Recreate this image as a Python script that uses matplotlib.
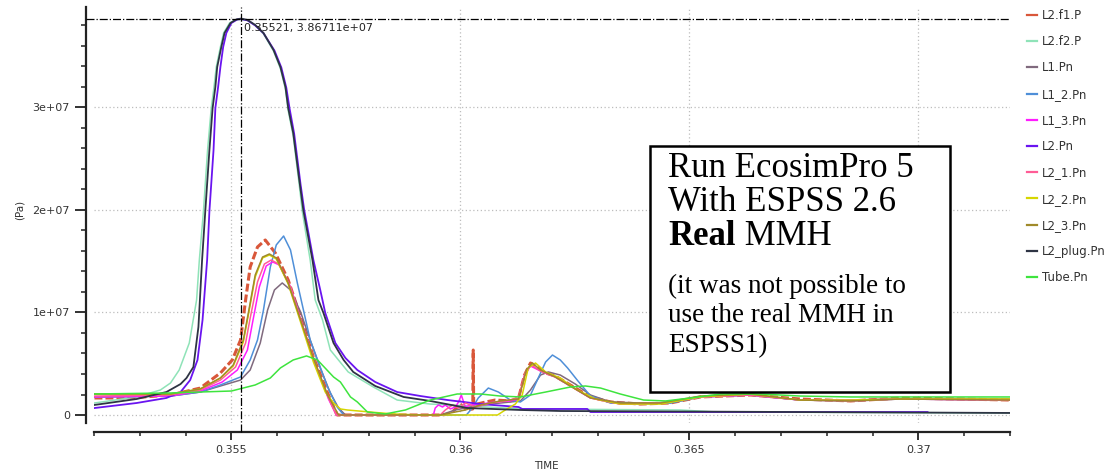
import matplotlib
matplotlib.use("Agg")
import matplotlib.pyplot as plt
from matplotlib.lines import Line2D
from matplotlib.patches import Rectangle
from matplotlib.ticker import MultipleLocator, FuncFormatter, FixedLocator

# ---- data: time [s] and pressure [1e6 Pa] for each node ----
t_f1 = [0.35201, 0.35279, 0.35367, 0.35432, 0.35476, 0.35502, 0.35520, 0.35531, 0.35541, 0.35557,
        0.35574, 0.35596, 0.35624, 0.35651, 0.35679, 0.35710, 0.35731, 0.35956, 0.35978, 0.36000,
        0.36013, 0.36027, 0.36028, 0.36029, 0.36055, 0.36076, 0.36109, 0.36127, 0.36140, 0.36153,
        0.36166, 0.36186, 0.36207, 0.36240, 0.36284, 0.36328, 0.36393, 0.36458, 0.36524, 0.36633,
        0.36742, 0.36852, 0.36961, 0.37092, 0.37201]
p_f1 = [1.66, 1.66, 1.95, 2.63, 4.10, 5.37, 7.32, 11.22, 14.44, 16.39,
        17.07, 15.80, 13.17, 9.56, 5.66, 2.15, 0.00, 0.00, 0.10, 1.07,
        0.49, 0.59, 6.34, 0.98, 1.27, 1.46, 1.37, 1.66, 3.90, 5.07,
        4.78, 4.10, 3.80, 2.93, 1.76, 1.27, 1.07, 1.17, 1.76, 1.95,
        1.56, 1.37, 1.66, 1.56, 1.46]

t_f2 = [0.35201, 0.35293, 0.35345, 0.35367, 0.35386, 0.35408, 0.35424, 0.35430, 0.35439, 0.35448,
        0.35456, 0.35462, 0.35467, 0.35476, 0.35483, 0.35496, 0.35509, 0.35520, 0.35535, 0.35552,
        0.35570, 0.35592, 0.35607, 0.35618, 0.35624, 0.35635, 0.35648, 0.35655, 0.35672, 0.35683,
        0.35699, 0.35716, 0.35755, 0.35810, 0.35862, 0.35934, 0.36022, 0.36131, 0.36480, 0.36561,
        0.37201]
p_f2 = [1.17, 1.76, 2.44, 3.12, 4.39, 7.02, 11.22, 15.12, 19.90, 25.85,
        29.95, 32.00, 33.95, 35.90, 37.27, 38.24, 38.55, 38.60, 38.50, 38.00,
        37.20, 35.50, 33.80, 31.80, 29.70, 27.20, 22.50, 19.80, 15.12, 11.22,
        9.27, 6.34, 4.20, 2.73, 1.46, 1.07, 0.88, 0.59, 0.49, 0.29,
        0.20]

t_l1 = [0.35201, 0.35367, 0.35432, 0.35476, 0.35520, 0.35541, 0.35563, 0.35579, 0.35594, 0.35611,
        0.35629, 0.35651, 0.35672, 0.35694, 0.35716, 0.35734, 0.35749, 0.35956, 0.35989, 0.36022,
        0.36066, 0.36109, 0.36131, 0.36153, 0.36175, 0.36192, 0.36218, 0.36251, 0.36284, 0.36328,
        0.36393, 0.36458, 0.36524, 0.36633, 0.36742, 0.36852, 0.36961, 0.37201]
p_l1 = [1.76, 1.85, 2.24, 2.83, 3.41, 4.39, 7.02, 10.24, 12.20, 12.88,
        12.20, 10.05, 7.32, 4.59, 2.15, 0.68, 0.00, 0.00, 0.49, 0.78,
        1.07, 1.27, 1.37, 2.44, 3.90, 4.20, 3.90, 3.02, 1.95, 1.27,
        1.17, 1.17, 1.76, 1.95, 1.46, 1.46, 1.56, 1.56]

t_l1_2 = [0.35201, 0.35367, 0.35432, 0.35476, 0.35520, 0.35541, 0.35557, 0.35570, 0.35585, 0.35598,
          0.35614, 0.35629, 0.35644, 0.35672, 0.35710, 0.35731, 0.35745, 0.36013, 0.36026, 0.36039,
          0.36061, 0.36083, 0.36109, 0.36131, 0.36153, 0.36170, 0.36186, 0.36201, 0.36218, 0.36234,
          0.36255, 0.36284, 0.36328, 0.36393, 0.36458, 0.36524, 0.36633, 0.36742, 0.36852, 0.36961,
          0.37201]
p_l1_2 = [1.76, 1.85, 2.24, 2.93, 3.71, 5.37, 7.32, 10.24, 14.44, 16.59,
          17.46, 16.10, 12.88, 7.32, 2.73, 0.78, 0.00, 0.00, 0.68, 1.66,
          2.63, 2.24, 1.46, 1.27, 1.95, 3.61, 5.17, 5.85, 5.37, 4.59,
          3.41, 1.85, 1.17, 1.07, 1.17, 1.76, 1.95, 1.46, 1.37, 1.56,
          1.46]

t_l1_3 = [0.35201, 0.35367, 0.35432, 0.35480, 0.35513, 0.35535, 0.35546, 0.35561, 0.35576, 0.35590,
          0.35605, 0.35629, 0.35655, 0.35683, 0.35712, 0.35729, 0.35941, 0.35945, 0.35952, 0.35961,
          0.35967, 0.35978, 0.35989, 0.35996, 0.36002, 0.36007, 0.36011, 0.36022, 0.36044, 0.36076,
          0.36109, 0.36127, 0.36140, 0.36153, 0.36175, 0.36207, 0.36240, 0.36284, 0.36349, 0.36437,
          0.36524, 0.36633, 0.36742, 0.36852, 0.36961, 0.37201]
p_l1_3 = [1.76, 1.85, 2.34, 3.22, 4.39, 6.34, 8.98, 12.49, 14.54, 14.93,
          14.63, 12.49, 8.78, 4.98, 1.56, 0.00, 0.00, 0.68, 0.98, 0.78,
          0.98, 0.59, 0.78, 1.27, 1.95, 1.27, 0.78, 0.98, 1.07, 1.27,
          1.37, 1.56, 3.90, 4.78, 4.29, 3.71, 2.83, 1.66, 1.07, 1.17,
          1.76, 1.95, 1.46, 1.46, 1.56, 1.46]

t_l2 = [0.35201, 0.35293, 0.35358, 0.35389, 0.35410, 0.35426, 0.35437, 0.35447, 0.35452, 0.35461,
        0.35465, 0.35471, 0.35476, 0.35482, 0.35489, 0.35500, 0.35513, 0.35522, 0.35535, 0.35552,
        0.35570, 0.35594, 0.35609, 0.35620, 0.35627, 0.35637, 0.35651, 0.35659, 0.35679, 0.35694,
        0.35705, 0.35727, 0.35749, 0.35775, 0.35814, 0.35862, 0.35913, 0.35972, 0.36044, 0.36127,
        0.36135, 0.36277, 0.36284, 0.37020]
p_l2 = [0.68, 1.17, 1.66, 2.24, 3.41, 5.37, 9.27, 15.12, 19.90, 25.85,
        29.95, 32.00, 33.95, 35.90, 37.27, 38.24, 38.59, 38.62, 38.50, 38.00,
        37.25, 35.55, 33.90, 31.90, 29.90, 27.45, 22.50, 20.00, 15.12, 12.20,
        9.95, 7.02, 5.56, 4.39, 3.22, 2.24, 1.85, 1.46, 1.07, 0.78,
        0.59, 0.59, 0.29, 0.29]

t_l2_1 = [0.35201, 0.35367, 0.35432, 0.35476, 0.35509, 0.35531, 0.35541, 0.35557, 0.35572, 0.35587,
          0.35603, 0.35629, 0.35655, 0.35683, 0.35712, 0.35729, 0.35956, 0.35967, 0.35983, 0.35996,
          0.36011, 0.36033, 0.36066, 0.36098, 0.36127, 0.36142, 0.36155, 0.36175, 0.36207, 0.36240,
          0.36284, 0.36349, 0.36437, 0.36524, 0.36633, 0.36742, 0.36852, 0.36961, 0.37201]
p_l2_1 = [1.85, 1.95, 2.44, 3.41, 4.68, 7.02, 9.46, 12.98, 14.73, 15.12,
          14.73, 12.49, 8.78, 5.07, 1.66, 0.00, 0.00, 0.49, 0.98, 0.68,
          1.17, 0.78, 1.17, 1.37, 1.66, 4.20, 4.88, 4.29, 3.71, 2.83,
          1.66, 1.07, 1.17, 1.76, 1.95, 1.46, 1.37, 1.56, 1.46]

t_l2_2 = [0.35201, 0.35367, 0.35432, 0.35476, 0.35504, 0.35526, 0.35537, 0.35552, 0.35568, 0.35583,
          0.35598, 0.35624, 0.35651, 0.35679, 0.35705, 0.35723, 0.35738, 0.35753, 0.35803, 0.35854,
          0.35913, 0.36081, 0.36098, 0.36120, 0.36135, 0.36148, 0.36164, 0.36186, 0.36218, 0.36251,
          0.36295, 0.36349, 0.36437, 0.36524, 0.36633, 0.36742, 0.36852, 0.36961, 0.37201]
p_l2_2 = [2.05, 2.05, 2.54, 3.61, 4.78, 7.12, 9.76, 13.46, 15.32, 15.61,
          15.22, 12.78, 9.07, 5.17, 2.24, 1.17, 0.59, 0.49, 0.29, 0.10,
          0.00, 0.00, 0.49, 1.07, 1.95, 4.59, 5.07, 4.20, 3.61, 2.54,
          1.56, 1.07, 1.07, 1.76, 2.05, 1.46, 1.46, 1.56, 1.56]

t_l2_3 = [0.35201, 0.35367, 0.35432, 0.35476, 0.35504, 0.35526, 0.35537, 0.35552, 0.35568, 0.35583,
          0.35598, 0.35624, 0.35651, 0.35679, 0.35710, 0.35734, 0.35956, 0.36011, 0.36044, 0.36087,
          0.36127, 0.36144, 0.36157, 0.36175, 0.36207, 0.36240, 0.36284, 0.36349, 0.36437, 0.36524,
          0.36633, 0.36742, 0.36852, 0.36961, 0.37201]
p_l2_3 = [2.05, 2.05, 2.54, 3.61, 4.88, 7.32, 9.95, 13.66, 15.41, 15.71,
          15.32, 12.88, 9.27, 5.56, 1.95, 0.00, 0.00, 0.49, 0.98, 1.37,
          1.56, 4.39, 5.07, 4.39, 3.71, 2.83, 1.66, 1.17, 1.17, 1.85,
          2.05, 1.46, 1.37, 1.56, 1.46]

t_plug = [0.35201, 0.35293, 0.35358, 0.35389, 0.35402, 0.35417, 0.35428, 0.35436, 0.35443, 0.35452,
          0.35459, 0.35465, 0.35469, 0.35478, 0.35485, 0.35498, 0.35511, 0.35521, 0.35535, 0.35552,
          0.35570, 0.35592, 0.35607, 0.35618, 0.35624, 0.35635, 0.35648, 0.35657, 0.35677, 0.35690,
          0.35701, 0.35723, 0.35745, 0.35766, 0.35814, 0.35876, 0.35934, 0.36015, 0.36131, 0.36218,
          0.37201]
p_plug = [0.98, 1.56, 2.24, 3.02, 3.61, 4.68, 8.59, 15.12, 19.90, 25.85,
          29.95, 32.00, 33.95, 35.90, 37.27, 38.24, 38.59, 38.6711, 38.54, 38.05,
          37.27, 35.61, 33.95, 32.00, 29.95, 27.51, 23.00, 20.00, 15.12, 11.22,
          9.95, 7.02, 5.37, 4.20, 2.83, 1.76, 1.37, 0.68, 0.49, 0.39,
          0.20]

t_tube = [0.35201, 0.35367, 0.35500, 0.35552, 0.35585, 0.35607, 0.35635, 0.35664, 0.35688, 0.35723,
          0.35738, 0.35760, 0.35775, 0.35797, 0.35836, 0.35880, 0.35934, 0.35993, 0.36044, 0.36087,
          0.36131, 0.36186, 0.36240, 0.36273, 0.36306, 0.36349, 0.36400, 0.36448, 0.36502, 0.36568,
          0.36655, 0.36742, 0.36852, 0.36961, 0.37201]
p_tube = [2.05, 2.15, 2.34, 2.93, 3.61, 4.59, 5.37, 5.76, 5.37, 3.71,
          3.22, 1.76, 1.27, 0.29, 0.10, 0.49, 1.46, 2.05, 2.05, 1.85,
          1.76, 2.24, 2.73, 2.83, 2.63, 2.05, 1.46, 1.37, 1.66, 2.05,
          2.05, 1.85, 1.76, 1.76, 1.76]

labels = ["L2.f1.P", "L2.f2.P", "L1.Pn", "L1_2.Pn", "L1_3.Pn", "L2.Pn",
          "L2_1.Pn", "L2_2.Pn", "L2_3.Pn", "L2_plug.Pn", "Tube.Pn"]
colors = ["#d9573a", "#8fe3b8", "#806a7e", "#4f8fd8", "#ff1cff", "#6a14f0",
          "#ff5c96", "#d6d600", "#a08a2a", "#2e3444", "#3ee43e"]

cursor_t = 0.35521
cursor_p = 3.86711e7

series_t = [t_f1, t_f2, t_l1, t_l1_2, t_l1_3, t_l2, t_l2_1, t_l2_2, t_l2_3, t_plug, t_tube]
series_p = [p_f1, p_f2, p_l1, p_l1_2, p_l1_3, p_l2, p_l2_1, p_l2_2, p_l2_3, p_plug, p_tube]

W, H = 1114, 475
AX_W, AX_H = 916, 416
fig = plt.figure(figsize=(W / 100, H / 100), dpi=100)
fig.patch.set_facecolor("white")
ax = fig.add_axes([94 / W, 52 / H, AX_W / W, AX_H / H])

widths = [2.2, 1.1, 1.1, 1.1, 1.1, 1.3, 1.1, 1.1, 1.1, 1.3, 1.1]
for i, (tt, pp) in enumerate(zip(series_t, series_p)):
    style = dict(color=colors[i], lw=widths[i], zorder=3 + i * 0.1)
    if i == 0:
        style.update(ls=(0, (2.6, 1.0)))
    ax.plot(tt, [v * 1e6 for v in pp], **style)

ax.set_xlim(0.352, 0.372)
ax.set_ylim(-0.78e6, 3.98e7)

# detached axes
for side in ("top", "right"):
    ax.spines[side].set_visible(False)
ax.spines["left"].set_position(("outward", 5.8))
ax.spines["bottom"].set_position(("outward", 6.5))
for side in ("left", "bottom"):
    ax.spines[side].set_linewidth(1.6)
    ax.spines[side].set_color("#222222")

ax.yaxis.set_major_locator(FixedLocator([0, 1e7, 2e7, 3e7]))
ax.yaxis.set_minor_locator(MultipleLocator(2e6))
ax.yaxis.set_major_formatter(FuncFormatter(lambda v, _: "0" if v == 0 else f"{v:.0e}"))
ax.xaxis.set_major_locator(FixedLocator([0.355, 0.36, 0.365, 0.37]))
ax.xaxis.set_minor_locator(MultipleLocator(0.001))
ax.xaxis.set_major_formatter(FuncFormatter(lambda v, _: f"{v:g}"))

ax.tick_params(axis="y", which="major", length=8, width=1.3, pad=3.5, labelsize=8,
               labelcolor="#333333", color="#222222")
ax.tick_params(axis="y", which="minor", length=3.6, width=1.1, color="#222222")
ax.tick_params(axis="x", which="major", length=6, width=1.3, pad=3.5, labelsize=8,
               labelcolor="#333333", color="#222222")
ax.tick_params(axis="x", which="minor", length=3, width=1.1, color="#222222")

ax.grid(True, which="major", ls=(0, (1, 2)), color="#bdbdbd", lw=0.9, zorder=0)
ax.set_axisbelow(True)

# cursor cross-hair reaching out to the detached spines, with its readout
ax.axhline(cursor_p, xmin=-8 / AX_W, xmax=1.0, color="black", ls="-.", lw=0.9,
           zorder=10, clip_on=False)
ax.axvline(cursor_t, ymin=-9 / AX_H, ymax=1.0, color="black", ls="-.", lw=0.9,
           zorder=10, clip_on=False)
ax.annotate(f"{cursor_t:.5f}, {cursor_p:.5e}",
            xy=(cursor_t, cursor_p), xytext=(2, -3), textcoords="offset points",
            ha="left", va="top", fontsize=8, color="#222222", zorder=11)

fig.text(20 / W, 1 - 210 / H, "(Pa)", rotation=90, ha="center", va="center",
         fontsize=7.5, color="#333333")
fig.text(546 / W, 1 - 466 / H, "TIME", ha="center", va="center",
         fontsize=7.5, color="#333333")

handles = [Line2D([], [], color=c, lw=1.6) for c in colors]
fig.legend(handles, labels, loc="upper left", bbox_to_anchor=(1027 / W, 1 - 9 / H),
           frameon=False, fontsize=8.5, handlelength=0.85, handletextpad=0.45,
           labelspacing=1.12, borderpad=0, borderaxespad=0, labelcolor="#333333")

# annotation box
fig.patches.append(Rectangle((650 / W, 1 - 392 / H), 300 / W, 246 / H,
                             transform=fig.transFigure, facecolor="white",
                             edgecolor="black", lw=1.8, zorder=20))
serif = "Liberation Serif"
big, small = 25, 19.5
x0 = 668 / W
fig.text(x0, 1 - 177 / H, "Run EcosimPro 5", family=serif, fontsize=big, va="baseline", zorder=21)
fig.text(x0, 1 - 211 / H, "With ESPSS 2.6", family=serif, fontsize=big, va="baseline", zorder=21)
real = fig.text(x0, 1 - 245 / H, "Real", family=serif, fontsize=big, weight="bold",
                va="baseline", zorder=21)
fig.canvas.draw()
bb = real.get_window_extent(fig.canvas.get_renderer())
fig.text(bb.x1 / W, 1 - 245 / H, " MMH", family=serif, fontsize=big, va="baseline", zorder=21)
fig.text(x0, 1 - 293 / H, "(it was not possible to", family=serif, fontsize=small,
         va="baseline", zorder=21)
fig.text(x0, 1 - 322 / H, "use the real MMH in", family=serif, fontsize=small,
         va="baseline", zorder=21)
fig.text(x0, 1 - 352 / H, "ESPSS1)", family=serif, fontsize=small, va="baseline", zorder=21)

fig.savefig("out.png", dpi=100, facecolor="white")
